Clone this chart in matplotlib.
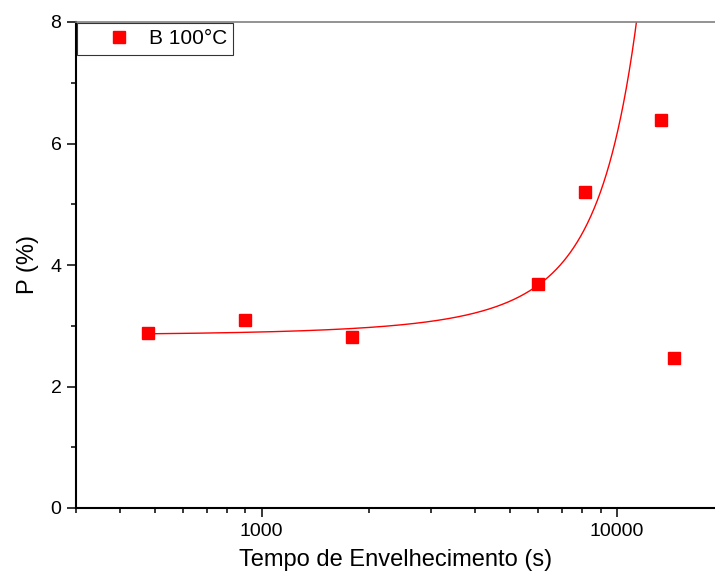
import numpy as np
import matplotlib
matplotlib.use("Agg")
import matplotlib.pyplot as plt
from matplotlib.ticker import LogLocator, NullFormatter, FixedLocator, MultipleLocator

plt.rcParams['font.family'] = ['Liberation Sans', 'DejaVu Sans']

# Data
time_s = [480, 900, 1800, 6000, 8130, 13300, 14450]
p_pct = [2.88, 3.09, 2.81, 3.69, 5.20, 6.38, 2.47]
series_label = "B 100°C"

# Exponential growth fit parameters: y = y0 + A*exp(x/t1)
fit_y0 = 2.70
fit_A = 0.144
fit_t1 = 3150.0

x_label = "Tempo de Envelhecimento (s)"
y_label = "P (%)"
y_ticks = [0, 2, 4, 6, 8]

fig = plt.figure(figsize=(7.15, 5.82), dpi=100)
ax = fig.add_axes([76/715, 74/582, 1 - 76/715, (508-22)/582])

xf = np.linspace(time_s[0], 12500, 600)
yf = fit_y0 + fit_A*np.exp(xf/fit_t1)
ax.plot(xf, yf, color='red', lw=1.0, zorder=2)
ax.plot(time_s, p_pct, ls='none', marker='s', ms=8, color='red',
        mec='red', label=series_label, zorder=3)

ax.set_xscale('log')
ax.set_xlim(300, 18900)
ax.set_ylim(0, 8)
ax.xaxis.set_major_locator(FixedLocator([1000, 10000]))
ax.xaxis.set_major_formatter(matplotlib.ticker.FuncFormatter(lambda v, p: f"{int(v)}"))
ax.xaxis.set_minor_locator(LogLocator(base=10, subs=np.arange(2, 10)))
ax.xaxis.set_minor_formatter(NullFormatter())
ax.set_yticks(y_ticks)
ax.yaxis.set_minor_locator(MultipleLocator(1))

for s in ['left', 'bottom']:
    ax.spines[s].set_linewidth(1.5)
    ax.spines[s].set_color('black')
ax.spines['top'].set_color('#808080')
ax.spines['top'].set_linewidth(1.2)
ax.spines['right'].set_visible(False)

ax.tick_params(which='major', direction='out', length=6.5, width=1.1,
               labelsize=14, pad=4, top=False, right=False)
ax.tick_params(which='minor', direction='out', length=3.6, width=1.1,
               top=False, right=False)

ax.set_xlabel(x_label, fontsize=17, labelpad=7)
ax.set_ylabel(y_label, fontsize=17, labelpad=8)

leg = ax.legend(loc='upper left', fontsize=15, frameon=True, fancybox=False,
                borderaxespad=0.05, handletextpad=-0.25, borderpad=0.3,
                handlelength=3.4, markerscale=1.0)
leg.get_frame().set_edgecolor('black')
leg.get_frame().set_linewidth(0.8)

fig.savefig("out.png", dpi=100)
